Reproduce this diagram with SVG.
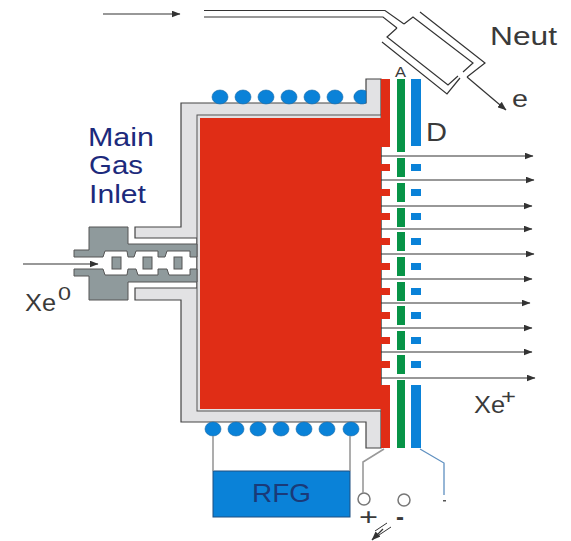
<svg xmlns="http://www.w3.org/2000/svg" width="571" height="541" viewBox="0 0 571 541">
<style>
text{font-family:"Liberation Sans",Arial,sans-serif}
.t{fill:#3a3a3a}.n{fill:#1c2a7c;font-size:25px}
.arr{fill:none;stroke:#333;stroke-width:1.2;marker-end:url(#a)}
.ln{fill:none;stroke:#333;stroke-width:1.2}
.b{fill:#0a82d8}.r{fill:#e02d16}.g{fill:#079447}
.dk{fill:#8f9a9c;stroke:#555;stroke-width:1}
.lt{fill:#e2e2e4;stroke:#444;stroke-width:1.2}
.coil{fill:#0a82d8;stroke:#1468a8;stroke-width:.6}
.w{fill:none;stroke:#999;stroke-width:1.6}
</style>
<defs><marker id="a" markerUnits="userSpaceOnUse" markerWidth="9" markerHeight="7" refX="8.5" refY="3.5" orient="auto"><path d="M0 0L9 3.5L0 7z" fill="#333"/></marker></defs>
<g id="chamber">
<path class="lt" d="M181 103H366V79H381V448H366V422H181V300H135V288H197V238H135V227H181Z"/>
<rect x="197" y="115" width="184" height="296" fill="#e2e2e4" stroke="#555" stroke-width="1"/>
<rect class="r" x="200" y="118" width="181" height="291"/>
</g>
<g id="inlet">
<path class="dk" d="M89 227H128V244H197V257H190V251H167L165 257H158V251H136L134 257H128L127 251H105L103 257H74V250H89Z"/>
<path class="dk" d="M74 269H103L105 275H127L128 269H136L138 275H158V269H167L169 275H190V269H197V282H128V300H89V276H74Z"/>
<rect class="dk" x="112" y="257" width="9" height="12"/>
<rect class="dk" x="143" y="257" width="9" height="12"/>
<rect class="dk" x="174" y="257" width="8" height="12"/>
</g>
<g id="coils-top">
<ellipse class="coil" cx="220" cy="97" rx="8" ry="7"/><ellipse class="coil" cx="243" cy="97" rx="8" ry="7"/><ellipse class="coil" cx="266" cy="97" rx="8" ry="7"/><ellipse class="coil" cx="289" cy="97" rx="8" ry="7"/><ellipse class="coil" cx="312" cy="97" rx="8" ry="7"/><ellipse class="coil" cx="335" cy="97" rx="8" ry="7"/><path class="coil" d="M366 91A8 7 0 1 0 366 103Z"/>
</g>
<g id="coils-bottom">
<ellipse class="coil" cx="213" cy="429" rx="8" ry="7"/><ellipse class="coil" cx="236" cy="429" rx="8" ry="7"/><ellipse class="coil" cx="258" cy="429" rx="8" ry="7"/><ellipse class="coil" cx="281" cy="429" rx="8" ry="7"/><ellipse class="coil" cx="304" cy="429" rx="8" ry="7"/><ellipse class="coil" cx="327" cy="429" rx="8" ry="7"/><ellipse class="coil" cx="351" cy="429" rx="8" ry="7"/>
</g>
<g id="plate-red">
<rect class="r" x="381" y="79" width="9" height="68"/>
<rect class="r" x="381" y="164" width="9" height="7"/><rect class="r" x="381" y="189" width="9" height="7"/><rect class="r" x="381" y="213" width="9" height="7"/><rect class="r" x="381" y="238" width="9" height="7"/><rect class="r" x="381" y="263" width="9" height="7"/><rect class="r" x="381" y="288" width="9" height="7"/><rect class="r" x="381" y="312" width="9" height="7"/><rect class="r" x="381" y="337" width="9" height="7"/><rect class="r" x="381" y="361" width="9" height="7"/>
<rect class="r" x="381" y="385" width="9" height="63"/>
</g>
<g id="plate-green">
<rect class="g" x="397" y="79" width="8" height="73"/>
<rect class="g" x="397" y="158" width="8" height="19"/><rect class="g" x="397" y="183" width="8" height="19"/><rect class="g" x="397" y="208" width="8" height="19"/><rect class="g" x="397" y="232" width="8" height="19"/><rect class="g" x="397" y="257" width="8" height="19"/><rect class="g" x="397" y="282" width="8" height="19"/><rect class="g" x="397" y="306" width="8" height="19"/><rect class="g" x="397" y="331" width="8" height="19"/><rect class="g" x="397" y="355" width="8" height="19"/>
<rect class="g" x="397" y="380" width="8" height="68"/>
</g>
<g id="plate-blue">
<rect class="b" x="411" y="79" width="10" height="67"/>
<rect class="b" x="411" y="164" width="10" height="7"/><rect class="b" x="411" y="189" width="10" height="7"/><rect class="b" x="411" y="213" width="10" height="7"/><rect class="b" x="411" y="238" width="10" height="7"/><rect class="b" x="411" y="263" width="10" height="7"/><rect class="b" x="411" y="288" width="10" height="7"/><rect class="b" x="411" y="312" width="10" height="7"/><rect class="b" x="411" y="337" width="10" height="7"/><rect class="b" x="411" y="361" width="10" height="7"/>
<rect class="b" x="411" y="385" width="10" height="63"/>
</g>
<g id="neutralizer">
<path class="ln" d="M204 10.500H385L404 24"/>
<path class="ln" d="M204 17H383L397 28"/>
<path class="ln" d="M404 24L413 17L473 63L463 72M458 76L448 85L387 37L397 28"/>
<path class="ln" d="M420 12L485 63L467 77M460 78L447 94L382 42"/>
</g>
<g id="rfg">
<rect x="213" y="471" width="137" height="46" fill="#0a82d8" stroke="#1f4f80" stroke-width="1"/>
<text x="252" y="502" font-size="26" textLength="59" lengthAdjust="spacingAndGlyphs" fill="#1a3a78">RFG</text>
</g>
<g id="terminals">
<circle cx="364" cy="499" r="6" fill="#fff" stroke="#777" stroke-width="1.500"/>
<circle cx="404" cy="500" r="6" fill="#fff" stroke="#777" stroke-width="1.500"/>
<rect x="443" y="500" width="3" height="1.500" fill="#555"/>
</g>
<g id="connectors">
<path class="arr" d="M103 14H180"/>
<path class="arr" d="M467 77L506 110"/>
<path class="arr" d="M23 264H98"/>
<path class="arr" d="M381 156H533"/>
<path class="arr" d="M381 180H534"/>
<path class="arr" d="M381 206H532"/>
<path class="arr" d="M381 229H532"/>
<path class="arr" d="M381 254H534"/>
<path class="arr" d="M381 279H532"/>
<path class="arr" d="M381 303H530"/>
<path class="arr" d="M381 328H532"/>
<path class="arr" d="M381 352H532"/>
<path class="arr" d="M381 378H535"/>
<path class="w" d="M213 436V471M350 436V471"/>
<path class="w" d="M384 449L363 462V493"/>
<path fill="none" stroke="#5f90c0" stroke-width="1.300" d="M420 449L444 463V495"/>
<path fill="none" stroke="#333" stroke-width="1" d="M375 531L387 523M379 535L391 527"/>
<path class="arr" d="M383 529L372 540"/>
</g>
<g id="labels">
<text class="n" x="88" y="146" textLength="66" lengthAdjust="spacingAndGlyphs">Main</text>
<text class="n" x="89" y="174" textLength="54" lengthAdjust="spacingAndGlyphs">Gas</text>
<text class="n" x="89" y="203" textLength="57" lengthAdjust="spacingAndGlyphs">Inlet</text>
<text class="t" x="490" y="45" font-size="25" textLength="67" lengthAdjust="spacingAndGlyphs">Neut</text>
<text class="t" x="395" y="77" font-size="15" textLength="11" lengthAdjust="spacingAndGlyphs">A</text>
<text class="t" x="426" y="141" font-size="25" textLength="21" lengthAdjust="spacingAndGlyphs">D</text>
<text class="t" x="512" y="107" font-size="24" textLength="16" lengthAdjust="spacingAndGlyphs">e</text>
<text class="t" x="25" y="311" font-size="24" textLength="31" lengthAdjust="spacingAndGlyphs">Xe</text>
<text class="t" x="58" y="300" font-size="18" textLength="13" lengthAdjust="spacingAndGlyphs">0</text>
<text class="t" x="474" y="413" font-size="24" textLength="31" lengthAdjust="spacingAndGlyphs">Xe</text>
<text class="t" x="501" y="404" font-size="20" textLength="15" lengthAdjust="spacingAndGlyphs">+</text>
<text class="t" x="359" y="525" font-size="24" textLength="19" lengthAdjust="spacingAndGlyphs">+</text>
<text class="t" x="396" y="525" font-size="24" font-weight="bold">-</text>
</g>
</svg>
